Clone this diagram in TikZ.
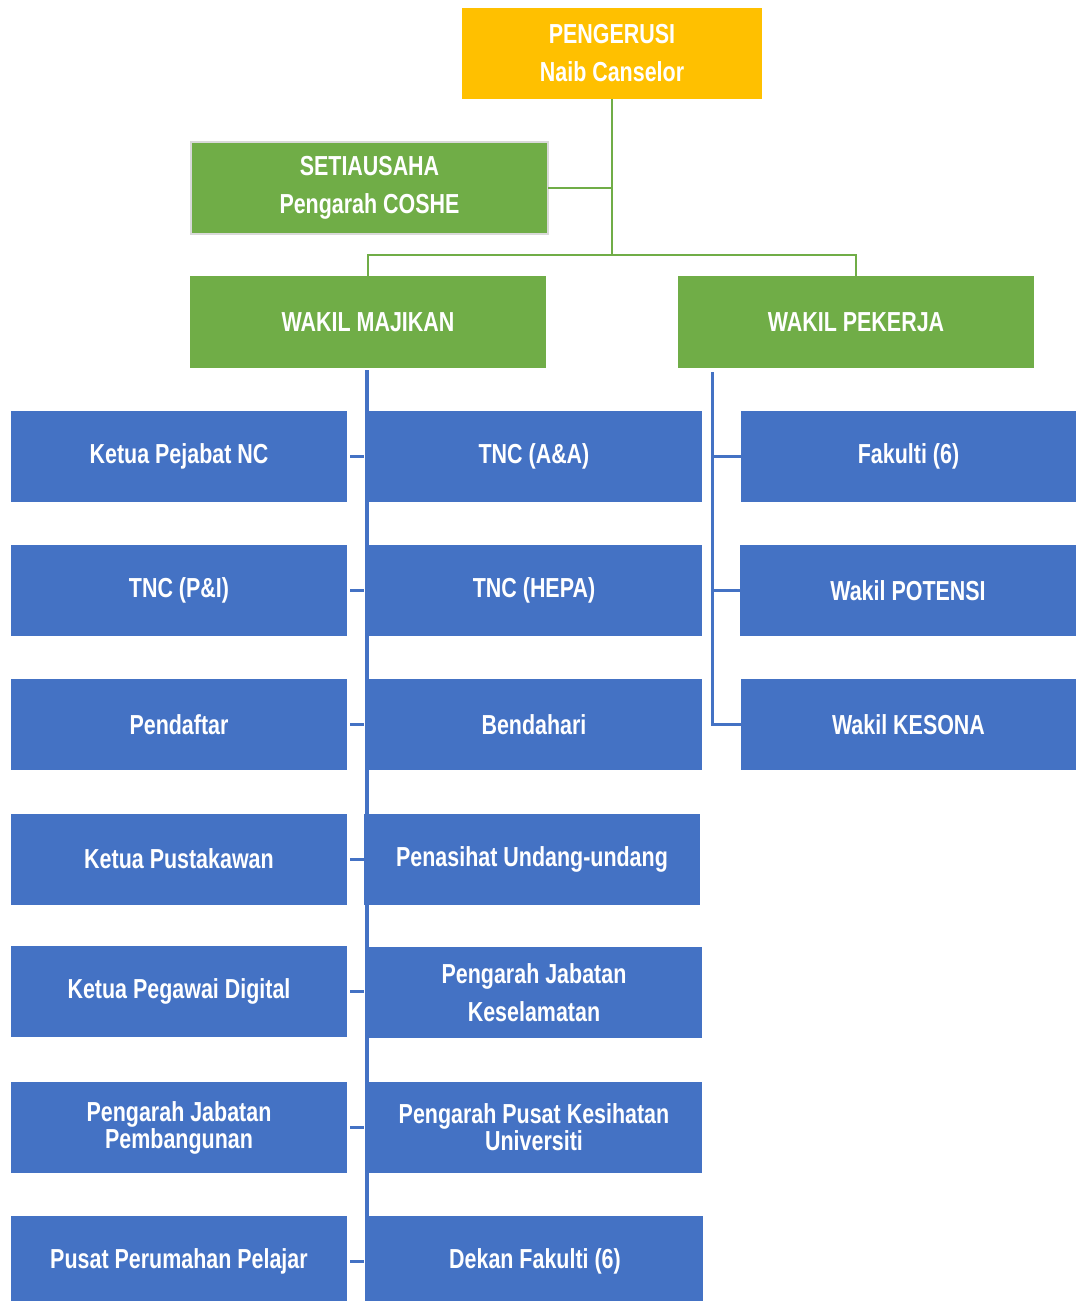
\documentclass[tikz,border=0pt]{standalone}
\usepackage{fontspec}
\setmainfont[FakeStretch=0.78]{Liberation Sans}
\definecolor{cblue}{HTML}{4472C4}
\definecolor{cgreen}{HTML}{70AD47}
\definecolor{cgold}{HTML}{FFC000}
\begin{document}
\begin{tikzpicture}[x=1pt,y=-1pt,
  box/.style={inner sep=0pt,outer sep=0pt,text=white,align=center,
    font=\bfseries\fontsize{27.5}{38}\selectfont},
  bbox/.style={box,fill=cblue,minimum width=336pt,minimum height=91pt},
  gbox/.style={box,fill=cgreen,minimum width=356pt,minimum height=92pt},
  gline/.style={draw=cgreen,line width=2.6pt},
  bline/.style={draw=cblue,line width=3pt},
  tight/.style={font=\bfseries\fontsize{27.5}{27}\selectfont}]
\useasboundingbox (0,0) rectangle (1076,1301);
\clip (0,0) rectangle (1076,1301);

% top level
\node[box,fill=cgold,minimum width=300pt,minimum height=91pt] (pen) at (612,53.5) {PENGERUSI\\Naib Canselor};
\node[box,fill=cgreen,draw=black!15,line width=2pt,minimum width=357pt,minimum height=92pt] (set) at (369.5,188) {SETIAUSAHA\\Pengarah COSHE};
\node[gbox] (wm) at (368,322) {WAKIL MAJIKAN};
\node[gbox] (wp) at (856,322) {WAKIL PEKERJA};

% green connectors
\coordinate (gj) at (612,255);
\draw[gline] (pen.south) -- (gj);
\draw[gline] (set.east) -- (set.east -| gj);
\draw[gline] (wm.north) |- (gj) -| (wp.north);

% blue spine behind middle column
\coordinate (sp) at (367,370);
\coordinate (spb) at (367,1301);
\draw[draw=cblue,line width=4pt] (sp) -- (spb);

% left column
\node[bbox] (l1) at (179,456.5) {Ketua Pejabat NC};
\node[bbox] (l2) at (179,590.5) {TNC (P\&I)};
\node[bbox] (l3) at (179,724.5) {Pendaftar};
\node[bbox] (l4) at (179,859) {Ketua Pustakawan};
\node[bbox] (l5) at (179,991.5) {Ketua Pegawai Digital};
\node[bbox,tight] (l6) at (179,1127.5) {Pengarah Jabatan\\Pembangunan};
\node[bbox] (l7) at (179,1261.5) {Pusat Perumahan Pelajar};

% middle column
\node[bbox] (m1) at (534,456.5) {TNC (A\&A)};
\node[bbox] (m2) at (534,590.5) {TNC (HEPA)};
\node[bbox] (m3) at (534,724.5) {Bendahari};
\node[bbox] (m4) at (532,859) {Penasihat Undang-undang};
\node[bbox] (m5) at (534,992.5) {Pengarah Jabatan\\Keselamatan};
\node[bbox,tight] (m6) at (534,1127.5) {Pengarah Pusat Kesihatan\\Universiti};
\node[bbox] (m7) at (535,1261.5) {Dekan Fakulti (6)};

% ticks left -> spine
\foreach \i in {1,...,7}{
  \draw[bline,shorten <=3pt,shorten >=3pt] (l\i.east) -- (l\i.east -| sp);
}

% right column
\node[bbox,minimum width=335pt] (r1) at (908.5,456.5) {Fakulti (6)};
\node[bbox,minimum width=336pt] (r2) at (908,590.5) {Wakil POTENSI};
\node[bbox,minimum width=335pt] (r3) at (908.5,724.5) {Wakil KESONA};

\coordinate (rs) at (712,372);
\draw[bline] (rs) |- (r3.west);
\draw[bline] (rs |- r1.west) -- (r1.west);
\draw[bline] (rs |- r2.west) -- (r2.west);
\end{tikzpicture}
\end{document}
